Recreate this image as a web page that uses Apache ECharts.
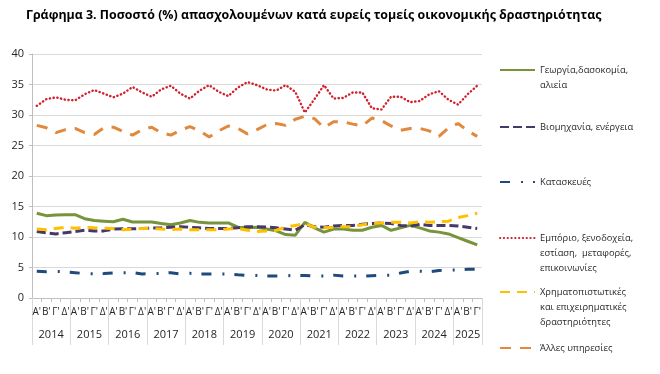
<!DOCTYPE html>
<html>
<head>
<meta charset="utf-8">
<script src="https://cdn.jsdelivr.net/npm/echarts@6/dist/echarts.min.js"></script>
<style>
  html, body { margin: 0; padding: 0; background: #fff; }
  #chart { width: 660px; height: 374px; }
</style>
</head>
<body>
<div id="chart"></div>
<script>
// ---- Data ----
const years = ['2014','2015','2016','2017','2018','2019','2020','2021','2022','2023','2024','2025'];
const quartersPerYear = [4,4,4,4,4,4,4,4,4,4,4,3];
const quarterLabels = ["Α'", "Β'", "Γ'", "Δ'"];

const seriesNames = [
  'Γεωργία,δασοκομία,\nαλιεία',
  'Βιομηχανία, ενέργεια',
  'Κατασκευές',
  'Εμπόριο, ξενοδοχεία,\nεστίαση,  μεταφορές,\nεπικοινωνίες',
  'Χρηματοπιστωτικές\nκαι επιχειρηματικές\nδραστηριότητες',
  'Άλλες υπηρεσίες'
];

const agriculture = [13.9, 13.5, 13.6, 13.65, 13.65, 13.0, 12.7, 12.6, 12.5, 12.9, 12.45, 12.45,
  12.45, 12.2, 12.0, 12.3, 12.7, 12.4, 12.3, 12.3, 12.3, 11.6, 11.5, 11.6,
  11.3, 11.0, 10.4, 10.3, 12.4, 11.5, 10.8, 11.3, 11.3, 11.1, 11.1, 11.6,
  11.9, 11.1, 11.5, 11.9, 11.5, 11.0, 10.8, 10.5, 9.9, 9.3, 8.7];
const industry = [10.9, 10.7, 10.5, 10.7, 10.9, 11.1, 11.0, 11.0, 11.3, 11.35, 11.35, 11.4,
  11.45, 11.5, 11.6, 11.7, 11.6, 11.5, 11.4, 11.4, 11.4, 11.5, 11.7, 11.7,
  11.65, 11.5, 11.3, 11.1, 12.0, 11.7, 11.6, 11.8, 11.9, 11.9, 12.1, 12.2,
  12.3, 12.2, 11.9, 11.8, 12.1, 11.9, 11.9, 11.9, 11.8, 11.6, 11.4];
const construction = [4.4, 4.3, 4.35, 4.3, 4.15, 4.0, 3.95, 4.0, 4.1, 4.15, 4.15, 3.95,
  4.0, 4.05, 4.15, 3.95, 4.05, 3.95, 3.95, 3.95, 3.95, 3.8, 3.7, 3.7,
  3.6, 3.6, 3.65, 3.7, 3.7, 3.6, 3.6, 3.75, 3.6, 3.6, 3.6, 3.65,
  3.7, 3.75, 4.1, 4.4, 4.4, 4.3, 4.5, 4.6, 4.6, 4.7, 4.7];
const trade = [31.5, 32.6, 32.9, 32.5, 32.4, 33.4, 34.1, 33.5, 32.9, 33.5, 34.6, 33.7,
  33.0, 34.2, 34.8, 33.5, 32.7, 34.0, 34.9, 33.8, 33.1, 34.5, 35.4, 34.9,
  34.2, 34.0, 34.9, 33.8, 30.4, 32.6, 34.9, 32.7, 32.8, 33.7, 33.7, 31.1,
  30.9, 33.0, 33.0, 32.1, 32.3, 33.4, 33.9, 32.5, 31.7, 33.4, 34.8];
const finance = [11.3, 11.2, 11.4, 11.6, 11.45, 11.6, 11.5, 11.45, 11.4, 11.2, 11.3, 11.4,
  11.4, 11.3, 11.2, 11.3, 11.2, 11.2, 11.2, 11.2, 11.3, 11.4, 11.1, 10.9,
  11.0, 11.1, 11.6, 11.9, 12.2, 11.6, 11.5, 11.6, 11.7, 11.7, 12.0, 12.2,
  12.3, 12.4, 12.4, 12.3, 12.5, 12.4, 12.5, 12.6, 13.2, 13.5, 13.9];
const otherServices = [28.3, 27.9, 27.1, 27.6, 27.8, 27.1, 26.8, 27.9, 28.0, 27.3, 26.7, 27.6,
  28.0, 27.1, 26.7, 27.5, 28.1, 27.4, 26.4, 27.4, 28.2, 27.8, 26.9, 27.6,
  28.4, 28.6, 28.3, 29.3, 29.8, 29.4, 27.9, 28.9, 28.9, 28.5, 28.2, 29.5,
  29.1, 28.2, 27.5, 27.8, 27.8, 27.4, 26.5, 27.9, 28.6, 27.4, 26.5];

const yTicks = [0, 5, 10, 15, 20, 25, 30, 35, 40];

// ---- Build category axes ----
const categories = [];
const yearAxisData = [];
const yearLabelIdx = {};
const yearStartIdx = {};
years.forEach((y, k) => {
  const n = quartersPerYear[k];
  yearStartIdx[categories.length] = true;
  for (let q = 0; q < n; q++) {
    categories.push(quarterLabels[q]);
    yearAxisData.push(y);
  }
  const start = categories.length - n;
  const mid = start + Math.floor((n - 1) / 2);
  yearLabelIdx[mid] = (n % 2 === 0) ? 'even' : 'odd';
});

const gridLeft = 32, gridRight = 178;
const band = (660 - gridLeft - gridRight) / categories.length;

const seriesData = [agriculture, industry, construction, trade, finance, otherServices];
const seriesStyles = [
  { color: '#77933C', width: 3, type: 'solid', cap: 'butt' },
  { color: '#463868', width: 3, type: [9, 4], cap: 'butt' },
  { color: '#1F4A7C', width: 3, type: [10, 11, 2, 10], cap: 'butt' },
  { color: '#D2202C', width: 2.4, type: [0.3, 3.5], cap: 'round' },
  { color: '#FFC000', width: 3, type: [10, 7], cap: 'butt' },
  { color: '#E0883C', width: 3, type: [11, 9], cap: 'butt' }
];

const series = seriesNames.map((name, i) => ({
  name: name,
  type: 'line',
  data: seriesData[i],
  symbol: 'none',
  smooth: false,
  animation: false,
  lineStyle: seriesStyles[i],
  itemStyle: { color: seriesStyles[i].color }
}));

// legend: one per item, icon aligned with first text line
const legendCenters = [70, 127, 182, 238, 292, 348];
const LH = 15;
const legends = seriesNames.map((name, i) => {
  const lines = name.split('\n').length;
  const total = 2 * lines - 1;
  const H = total * LH;
  return {
    data: [name],
    left: 499,
    top: legendCenters[i] - Math.max(7, H / 2),
    padding: 0,
    itemWidth: 35,
    itemHeight: 14,
    selectedMode: false,
    itemStyle: { opacity: 0 },
    formatter: (n) => '\n'.repeat(lines - 1) + n,
    textStyle: { fontFamily: 'Open Sans', fontSize: 9.3, lineHeight: LH, color: '#262626' }
  };
});

const chart = echarts.init(document.getElementById('chart'), null, { renderer: 'canvas' });
chart.setOption({
  animation: false,
  backgroundColor: '#ffffff',
  title: {
    text: 'Γράφημα 3. Ποσοστό (%) απασχολουμένων κατά ευρείς τομείς οικονομικής δραστηριότητας',
    left: 26,
    top: 9,
    padding: 0,
    textStyle: { fontFamily: 'Open Sans', fontWeight: 'bold', fontSize: 12.4, color: '#000' }
  },
  legend: legends,
  grid: { left: gridLeft, right: gridRight, top: 54, bottom: 76, containLabel: false },
  xAxis: [
    {
      type: 'category',
      data: categories,
      position: 'bottom',
      offset: 0,
      boundaryGap: true,
      axisLine: { show: true, lineStyle: { color: '#BFBFBF', width: 1 } },
      axisTick: { show: true, interval: 0, length: 4, lineStyle: { color: '#BFBFBF' } },
      axisLabel: { interval: 0, margin: 9, fontFamily: 'Open Sans', fontSize: 10, color: '#262626' },
      splitLine: { show: false }
    },
    {
      type: 'category',
      data: yearAxisData,
      position: 'bottom',
      offset: 0,
      boundaryGap: true,
      axisLine: { show: false },
      axisTick: {
        show: true,
        interval: (idx) => !!yearStartIdx[idx],
        length: 47,
        lineStyle: { color: '#D9D9D9' }
      },
      axisLabel: {
        interval: (idx) => yearLabelIdx[idx] !== undefined,
        margin: 31,
        fontFamily: 'Open Sans',
        fontSize: 11,
        color: '#262626',
        formatter: (v, idx) => (yearLabelIdx[idx] === 'even' ? '{e|' + v + '}' : '{o|' + v + '}'),
        rich: {
          e: { padding: [0, 0, 0, band], fontFamily: 'Open Sans', fontSize: 11, color: '#262626' },
          o: { fontFamily: 'Open Sans', fontSize: 11, color: '#262626' }
        }
      },
      splitLine: { show: false }
    }
  ],
  yAxis: {
    type: 'value',
    min: yTicks[0],
    max: yTicks[yTicks.length - 1],
    interval: yTicks[1] - yTicks[0],
    axisLine: { show: true, lineStyle: { color: '#BFBFBF' } },
    axisTick: { show: true, length: 3, lineStyle: { color: '#BFBFBF' } },
    axisLabel: { margin: 8, fontFamily: 'Open Sans', fontSize: 11, color: '#262626' },
    splitLine: { show: true, lineStyle: { color: '#D9D9D9', width: 1 } }
  },
  series: series
});
</script>
</body>
</html>
